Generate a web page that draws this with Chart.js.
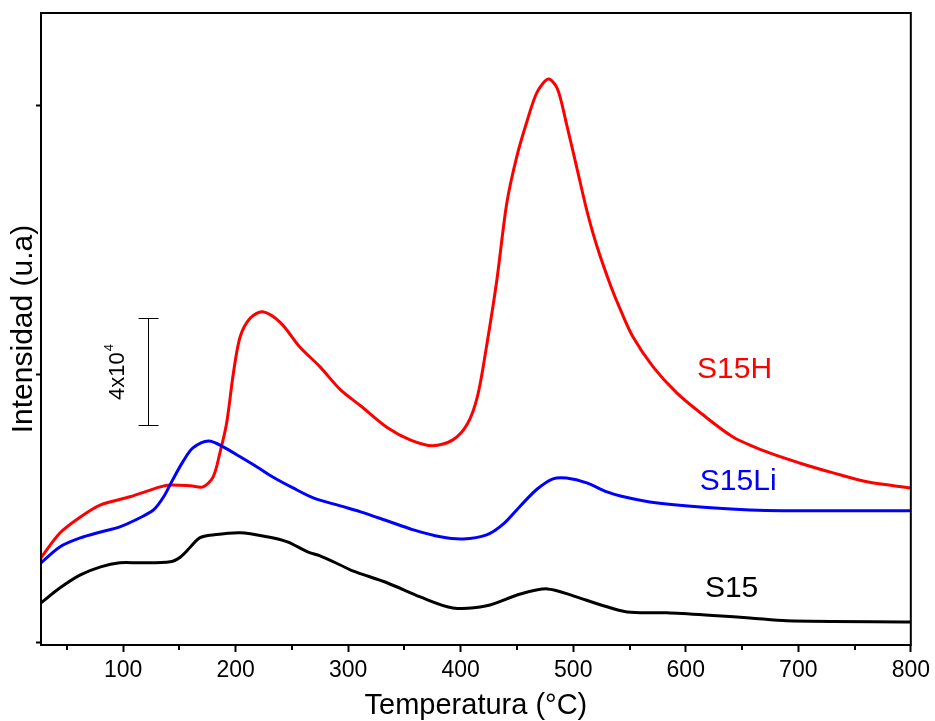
<!DOCTYPE html>
<html>
<head>
<meta charset="utf-8">
<script src="https://cdn.jsdelivr.net/npm/chart.js@4.4.1/dist/chart.umd.min.js"></script>
<style>
  html, body { margin: 0; padding: 0; background: #fff; }
  #wrap { width: 935px; height: 721px; }
</style>
</head>
<body>
<div id="wrap"><canvas id="tpr" width="935" height="721"></canvas></div>
<script>
/* =======================
   DATA (intensity in 10^3 a.u.)
======================= */
const tempS15H = [27, 44, 62, 80, 106, 133, 142, 160, 171, 180, 186, 192, 198, 204, 213, 224, 240, 257, 275, 293,
  311, 335, 355, 375, 393, 406, 415, 423, 432, 441, 450, 459, 468, 478, 486, 494, 503, 512, 521, 533,
  542, 553, 571, 592, 613, 642, 672, 701, 731, 761, 800];
const intS15H = [31.7, 41.0, 46.9, 51.4, 54.4, 58.1, 58.8, 58.5, 58.1, 61.8, 70.8, 81.9, 100.5, 114.0, 121.0, 123.3, 119.2, 110.2, 102.8, 94.3,
  88.3, 80.1, 75.6, 73.4, 75.6, 81.6, 92.0, 110.6, 134.8, 163.9, 181.4, 194.4, 205.2, 210.0, 206.3, 193.3, 177.3, 161.2, 147.8, 133.3,
  124.0, 114.0, 102.8, 93.1, 85.7, 76.7, 71.1, 67.0, 63.3, 60.0, 57.7];

const tempS15Li = [27, 44, 62, 80, 97, 115, 127, 136, 144, 153, 162, 176, 189, 204, 219, 233, 251, 269, 293, 311,
  335, 358, 382, 402, 423, 438, 453, 468, 482, 494, 512, 530, 542, 568, 613, 657, 686, 800];
const intS15Li = [29.8, 35.8, 39.1, 41.3, 43.2, 46.6, 49.5, 54.4, 60.7, 67.4, 72.6, 75.2, 73.0, 69.3, 65.5, 61.8, 57.7, 54.0, 51.0, 48.8,
  45.4, 42.1, 39.5, 38.7, 40.2, 44.3, 51.0, 57.3, 61.1, 61.4, 59.6, 56.2, 54.7, 52.5, 50.6, 49.5, 49.2, 49.2];

const tempS15 = [27, 44, 62, 80, 97, 115, 142, 151, 160, 168, 180, 204, 228, 246, 264, 275, 293, 304, 335, 364,
  393, 423, 453, 477, 500, 524, 548, 583, 628, 657, 690, 800];
const intS15 = [14.9, 20.5, 25.3, 28.3, 29.8, 29.8, 30.2, 32.0, 35.8, 39.1, 40.2, 41.0, 39.5, 37.6, 33.9, 32.4, 29.0, 26.8, 22.3, 17.1,
  13.0, 13.8, 18.2, 20.1, 17.5, 14.2, 11.5, 11.2, 10.1, 9.3, 8.2, 7.8];

const xMajorTicks = [100, 200, 300, 400, 500, 600, 700, 800];
const xMinorTicks = [50, 150, 250, 350, 450, 550, 650, 750];
const yTicks = [0, 100, 200];

/* =======================
   HELPERS
======================= */
const FONT = "'Liberation Sans', Arial, sans-serif";

function toPoints(xs, ys) {
  return xs.map((x, i) => ({ x, y: ys[i] }));
}

function lineSet(label, xs, ys, color) {
  return {
    label,
    data: toPoints(xs, ys),
    borderColor: color,
    borderWidth: 3,
    pointRadius: 0,
    fill: false,
    tension: 0.3
  };
}

// curve names placed next to each trace
const curveNotes = [
  { text: "S15H", color: "#ff0000", x: 610, y: 98.7 },
  { text: "S15Li", color: "#0000ff", x: 612.5, y: 57.0 },
  { text: "S15", color: "#000000", x: 617, y: 17.1 }
];

// 4x10^4 scale bar
const scaleBar = { x: 122, from: 81, to: 121 };

/* =======================
   PLUGINS
======================= */
const framePlugin = {
  id: "frame",
  afterDraw(chart) {
    const { ctx, chartArea: a, scales } = chart;
    ctx.save();
    ctx.strokeStyle = "#000";
    ctx.lineWidth = 2;
    ctx.strokeRect(a.left, a.top, a.right - a.left, a.bottom - a.top);

    // minor x ticks (shorter)
    ctx.beginPath();
    xMinorTicks.forEach(v => {
      const px = Math.round(scales.x.getPixelForValue(v));
      ctx.moveTo(px, a.bottom);
      ctx.lineTo(px, a.bottom + 5);
    });
    ctx.stroke();

    // curve names
    ctx.font = "30px " + FONT;
    ctx.textBaseline = "alphabetic";
    ctx.textAlign = "left";
    curveNotes.forEach(n => {
      ctx.fillStyle = n.color;
      ctx.fillText(n.text, scales.x.getPixelForValue(n.x), scales.y.getPixelForValue(n.y));
    });

    // scale bar
    const bx = Math.round(scales.x.getPixelForValue(scaleBar.x)) + 0.5;
    const y1 = Math.round(scales.y.getPixelForValue(scaleBar.to)) + 0.5;
    const y2 = Math.round(scales.y.getPixelForValue(scaleBar.from)) + 0.5;
    ctx.lineWidth = 1;
    ctx.beginPath();
    ctx.moveTo(bx, y1); ctx.lineTo(bx, y2);
    ctx.moveTo(bx - 10, y1); ctx.lineTo(bx + 10, y1);
    ctx.moveTo(bx - 10, y2); ctx.lineTo(bx + 10, y2);
    ctx.stroke();

    ctx.fillStyle = "#000";
    ctx.translate(bx - 25, (y1 + y2) / 2 + 28);
    ctx.rotate(-Math.PI / 2);
    ctx.font = "22px " + FONT;
    ctx.fillText("4x10", 0, 0);
    const w = ctx.measureText("4x10").width;
    ctx.font = "13px " + FONT;
    ctx.fillText("4", w + 1, -11);
    ctx.restore();
  }
};

/* =======================
   CHART
======================= */
const ctx = document.getElementById("tpr").getContext("2d");

new Chart(ctx, {
  type: "line",
  data: {
    datasets: [
      lineSet("S15", tempS15, intS15, "#000000"),
      lineSet("S15Li", tempS15Li, intS15Li, "#0000ff"),
      lineSet("S15H", tempS15H, intS15H, "#ff0000")
    ]
  },
  options: {
    responsive: false,
    animation: false,
    devicePixelRatio: 1,
    layout: { padding: { top: 13, right: 24, left: 0, bottom: 0 } },
    plugins: { legend: { display: false }, tooltip: { enabled: false } },
    scales: {
      x: {
        type: "linear",
        min: 27,
        max: 800,
        afterBuildTicks: s => { s.ticks = xMajorTicks.map(v => ({ value: v })); },
        afterFit: s => { s.height = 76; },
        border: { display: false },
        grid: { drawOnChartArea: false, tickLength: 7, tickWidth: 2, tickColor: "#000" },
        ticks: { color: "#000", padding: 5, font: { family: FONT, size: 23 } },
        title: {
          display: true,
          text: "Temperatura (°C)",
          color: "#000",
          padding: { top: 0, bottom: -2 },
          font: { family: FONT, size: 29 }
        }
      },
      y: {
        type: "linear",
        min: -0.8,
        max: 234.6,
        afterBuildTicks: s => { s.ticks = yTicks.map(v => ({ value: v })); },
        afterFit: s => { s.width = 41; },
        border: { display: false },
        grid: { drawOnChartArea: false, tickLength: 5, tickWidth: 2, tickColor: "#000" },
        ticks: { display: false },
        title: {
          display: true,
          text: "Intensidad (u.a)",
          color: "#000",
          padding: { top: 6, bottom: 0 },
          font: { family: FONT, size: 30 }
        }
      }
    }
  },
  plugins: [framePlugin]
});
</script>
</body>
</html>
